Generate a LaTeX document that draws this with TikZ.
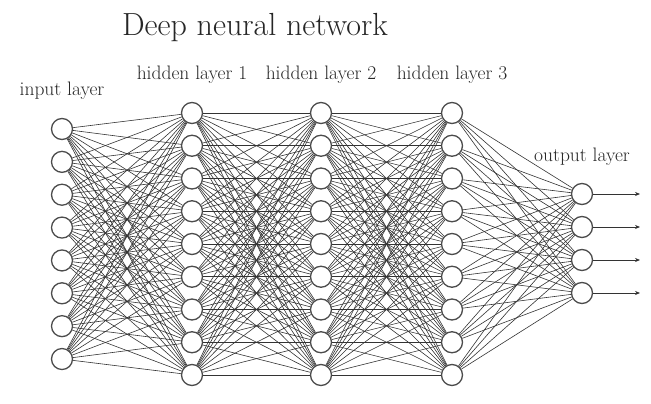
\documentclass[tikz,border=0pt]{standalone}
\usetikzlibrary{arrows.meta}
\begin{document}
\begin{tikzpicture}[x=1pt,y=-1pt,
  neuron/.style={circle,draw=black!70,line width=1.3pt,fill=white,minimum size=21pt,inner sep=0pt},
  conn/.style={draw=black!80,line width=0.6pt},
  outarrow/.style={draw=black!80,line width=0.7pt,-{Stealth[length=5pt,width=4pt]}},
  lbl/.style={text=black!85,font=\fontsize{19.5}{19.5}\selectfont,inner sep=0pt}]
\useasboundingbox (0,0) rectangle (651,404);
\node[text=black!85,font=\fontsize{32}{32}\selectfont,inner sep=0pt] (title) at (255,28) {Deep neural network};
% input layer
\foreach \i in {1,...,8} {
  \node[neuron] (I\i) at (62,{129+(\i-1)*32.86}) {};
}
% hidden layers
\foreach \L/\x in {A/192,B/321,C/452} {
  \foreach \i in {1,...,9} {
    \node[neuron] (\L\i) at (\x,{113+(\i-1)*32.75}) {};
  }
}
% output layer
\foreach \i in {1,...,4} {
  \node[neuron] (O\i) at (582,{194+(\i-1)*33}) {};
  \coordinate (E\i) at (640,{194+(\i-1)*33});
}
% labels
\node[lbl] (lin) at (62,91) {input layer};
\node[lbl] (lh1) at (192,75) {hidden layer 1};
\node[lbl] (lh2) at (321,75) {hidden layer 2};
\node[lbl] (lh3) at (452,75) {hidden layer 3};
\node[lbl] (lout) at (582,157) {output layer};
% connections
\foreach \i in {1,...,8} {\foreach \j in {1,...,9} {\draw[conn] (I\i) -- (A\j);}}
\foreach \i in {1,...,9} {\foreach \j in {1,...,9} {\draw[conn] (A\i) -- (B\j); \draw[conn] (B\i) -- (C\j);}}
\foreach \i in {1,...,9} {\foreach \j in {1,...,4} {\draw[conn] (C\i) -- (O\j);}}
\foreach \i in {1,...,4} {\draw[outarrow] (O\i) -- (E\i);}
\end{tikzpicture}
\end{document}
